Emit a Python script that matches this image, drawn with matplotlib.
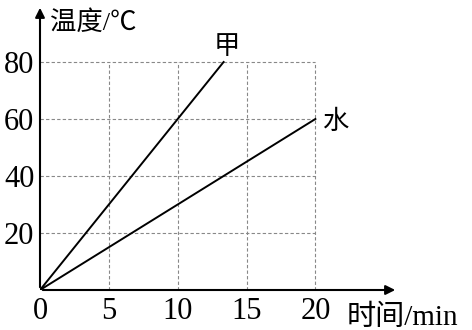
import numpy as np
import matplotlib.pyplot as plt

plt.rcParams['font.family'] = ['Liberation Serif', 'Noto Sans CJK SC']

# data
time_jia = [0, 40 / 3]
temp_jia = [0, 80]
time_water = [0, 20]
temp_water = [0, 60]
x_ticks = [0, 5, 10, 15, 20]
y_ticks = [20, 40, 60, 80]

fig = plt.figure(figsize=(4.72, 3.30), dpi=100)
ax = fig.add_axes([40 / 472, 40 / 330, 358 / 472, 285 / 330])
ax.set_xlim(0, 26)
ax.set_ylim(0, 100)
for s in ax.spines.values():
    s.set_visible(False)

# dashed grid
ax.vlines(x_ticks[1:], 0, 80, colors='#888888', linestyles=(0, (3, 2)), lw=0.8)
ax.hlines(y_ticks, 0, 20, colors='#888888', linestyles=(0, (3, 2)), lw=0.8)

# axes with arrows
ax.annotate('', xy=(26, 0), xytext=(0, 0),
            arrowprops=dict(arrowstyle='-|>', lw=1.5, color='black', mutation_scale=14))
ax.annotate('', xy=(0, 100), xytext=(0, 0),
            arrowprops=dict(arrowstyle='-|>', lw=1.5, color='black', mutation_scale=14))

ax.plot(time_jia, temp_jia, color='black', lw=1.4)
ax.plot(time_water, temp_water, color='black', lw=1.4)

ax.set_xticks(x_ticks)
ax.set_yticks(y_ticks)
ax.tick_params(length=0, labelsize=22)
ax.tick_params(axis='x', pad=5)
ax.tick_params(axis='y', pad=4)

fam = ['Liberation Serif', 'Noto Sans CJK SC']
ax.text(0.7, 94, '温度/℃', fontsize=19, family=fam, va='center', ha='left')
ax.text(22.3, -9.8, '时间/min', fontsize=21, family=fam, va='center', ha='left')
ax.text(13.6, 85, '甲', fontsize=19, family=fam, va='center', ha='center')
ax.text(20.5, 59, '水', fontsize=19, family=fam, va='center', ha='left')

fig.savefig('out.png', dpi=100)
